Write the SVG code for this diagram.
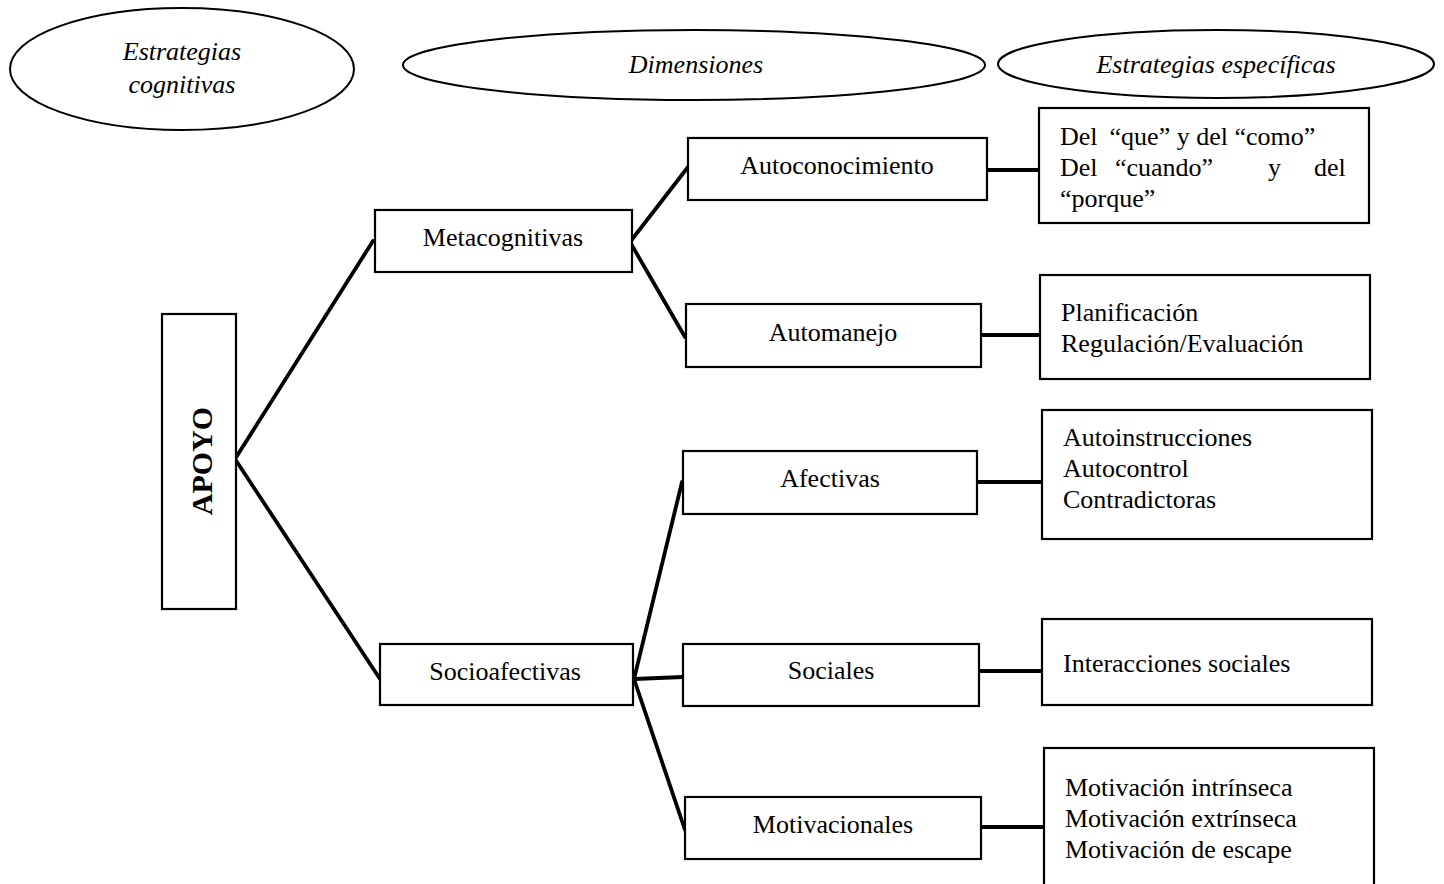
<svg xmlns="http://www.w3.org/2000/svg" width="1444" height="884" viewBox="0 0 1444 884">
<style>
.box{fill:#fff;stroke:#000;stroke-width:2.2}
.ell{fill:#fff;stroke:#000;stroke-width:2}
text{font-family:"Liberation Serif","Times New Roman",serif;font-size:26px;fill:#000}
.c{text-anchor:middle}
.it{font-style:italic}
.big{font-size:30px;font-weight:bold}
.con{stroke:#000;stroke-width:3.8;fill:none;stroke-linecap:round}
.h{stroke:#000;stroke-width:4;fill:none}
</style>
<rect width="1444" height="884" fill="#fff"/>
<g id="connectors">
<line class="con" x1="235" y1="459" x2="373" y2="241"/>
<line class="con" x1="235" y1="459" x2="380" y2="679"/>
<line class="con" x1="630" y1="242" x2="688" y2="167"/>
<line class="con" x1="630" y1="242" x2="685" y2="337"/>
<line class="con" x1="634" y1="679" x2="682" y2="482"/>
<line class="con" x1="634" y1="679" x2="683" y2="677"/>
<line class="con" x1="634" y1="679" x2="685" y2="830"/>
<line class="h" x1="984" y1="170" x2="1039" y2="170"/>
<line class="h" x1="981" y1="335" x2="1040" y2="335"/>
<line class="h" x1="977" y1="482" x2="1046" y2="482"/>
<line class="h" x1="979" y1="671" x2="1042" y2="671"/>
<line class="h" x1="981" y1="827" x2="1044" y2="827"/>
</g>
<g id="header-cognitivas">
<ellipse class="ell" cx="182" cy="69" rx="172" ry="61"/>
<text class="c it" x="182" y="60">Estrategias</text>
<text class="c it" x="182" y="93">cognitivas</text>
</g>
<g id="header-dimensiones">
<ellipse class="ell" cx="694" cy="65" rx="291" ry="35"/>
<text class="c it" x="696" y="73">Dimensiones</text>
</g>
<g id="header-especificas">
<ellipse class="ell" cx="1216" cy="64" rx="218" ry="34"/>
<text class="c it" x="1216" y="73">Estrategias específicas</text>
</g>
<g id="apoyo">
<rect class="box" x="162" y="314" width="74" height="295"/>
<text class="c big" transform="translate(212,461) rotate(-90)">APOYO</text>
</g>
<g id="metacognitivas">
<rect class="box" x="375" y="210" width="257" height="62"/>
<text class="c" x="503" y="246">Metacognitivas</text>
</g>
<g id="socioafectivas">
<rect class="box" x="380" y="644" width="253" height="61"/>
<text class="c" x="505" y="680">Socioafectivas</text>
</g>
<g id="autoconocimiento">
<rect class="box" x="688" y="138" width="299" height="62"/>
<text class="c" x="837" y="174">Autoconocimiento</text>
</g>
<g id="automanejo">
<rect class="box" x="686" y="304" width="295" height="63"/>
<text class="c" x="833" y="341">Automanejo</text>
</g>
<g id="afectivas">
<rect class="box" x="683" y="451" width="294" height="63"/>
<text class="c" x="830" y="487">Afectivas</text>
</g>
<g id="sociales">
<rect class="box" x="683" y="644" width="296" height="62"/>
<text class="c" x="831" y="679">Sociales</text>
</g>
<g id="motivacionales">
<rect class="box" x="685" y="797" width="296" height="62"/>
<text class="c" x="833" y="833">Motivacionales</text>
</g>
<g id="esp-autoconocimiento">
<rect class="box" x="1039" y="108" width="330" height="115"/>
<text x="1060" y="145">Del<tspan dx="12">“que” y del “como”</tspan></text>
<text x="1060" y="176">Del</text>
<text x="1115" y="176">“cuando”</text>
<text x="1268" y="176">y</text>
<text x="1314" y="176">del</text>
<text x="1060" y="207">“porque”</text>
</g>
<g id="esp-automanejo">
<rect class="box" x="1040" y="275" width="330" height="104"/>
<text x="1061" y="321">Planificación</text>
<text x="1061" y="352">Regulación/Evaluación</text>
</g>
<g id="esp-afectivas">
<rect class="box" x="1042" y="410" width="330" height="129"/>
<text x="1063" y="446">Autoinstrucciones</text>
<text x="1063" y="477">Autocontrol</text>
<text x="1063" y="508">Contradictoras</text>
</g>
<g id="esp-sociales">
<rect class="box" x="1042" y="619" width="330" height="86"/>
<text x="1063" y="672">Interacciones sociales</text>
</g>
<g id="esp-motivacionales">
<rect class="box" x="1044" y="748" width="330" height="140"/>
<text x="1065" y="796">Motivación intrínseca</text>
<text x="1065" y="827">Motivación extrínseca</text>
<text x="1065" y="858">Motivación de escape</text>
</g>
</svg>
